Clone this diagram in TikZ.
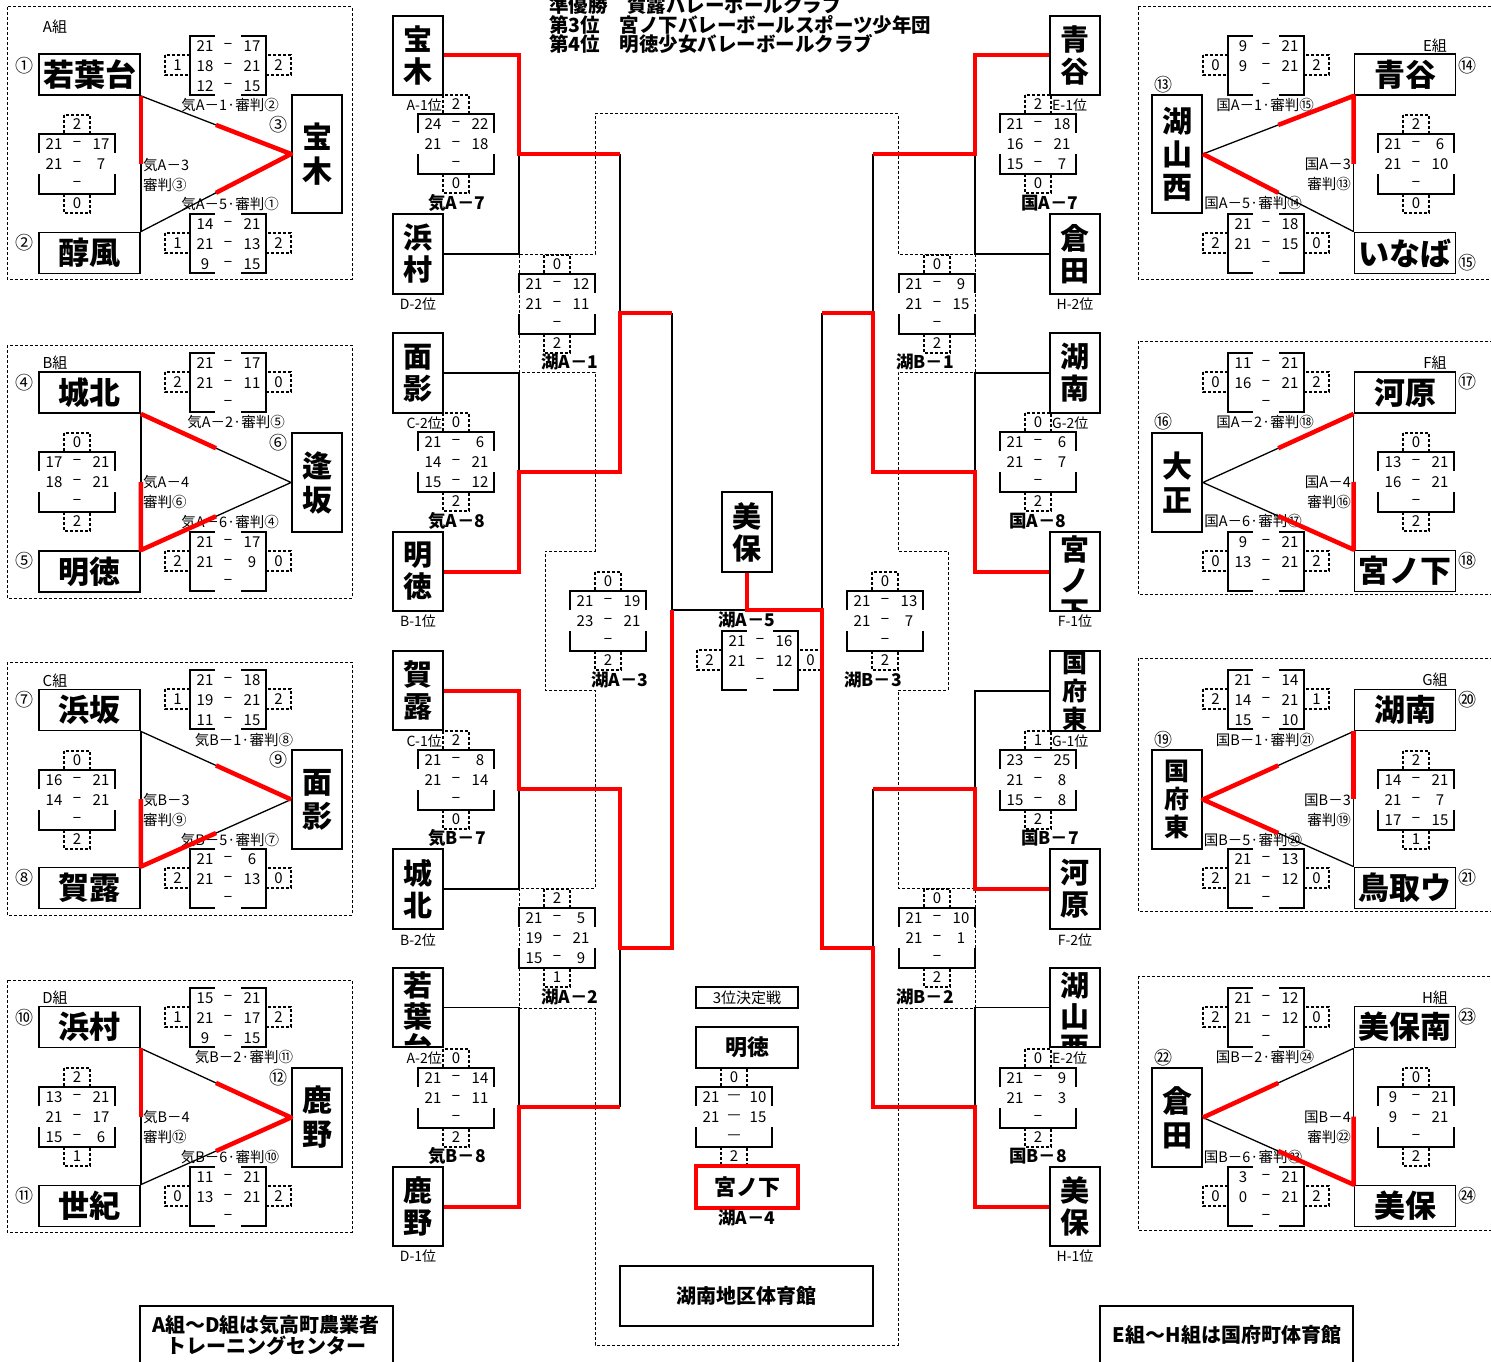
\documentclass[tikz,border=0pt]{standalone}
\usepackage{fontspec}
\setmainfont{Noto Sans CJK JP}
\usetikzlibrary{calc,positioning}
\def\sd{−}
% score box, sets shown left and right
\def\scoreH#1(#2,#3)#4#5#6{%
  \draw[sbox] (#2+25,#3) -- (#2,#3) -- (#2,#3+59) -- (#2+25,#3+59);
  \draw[sbox] (#2+51,#3) -- (#2+76,#3) -- (#2+76,#3+59) -- (#2+51,#3+59);
  \draw[dbox] (#2-25,#3+19) rectangle (#2,#3+39);
  \draw[dbox] (#2+76,#3+19) rectangle (#2+101,#3+39);
  \node[sc] (#1-l) at (#2-12.5,#3+29) {#4};
  \node[sc] (#1-r) at (#2+88.5,#3+29) {#5};
  \foreach \a/\b [count=\i] in {#6} {
    \node[sc] (#1-\i a) at (#2+15,#3-10+20*\i) {\a};
    \node[sc] (#1-\i m) at (#2+38,#3-10+20*\i) {\sd};
    \node[sc] (#1-\i b) at (#2+62,#3-10+20*\i) {\b};
  }
}
% score box, sets shown above and below
\def\scoreV#1(#2,#3)#4#5#6{%
  \draw[sbox] (#2,#3+19) -- (#2,#3) -- (#2+76,#3) -- (#2+76,#3+19);
  \draw[sbox] (#2,#3+40) -- (#2,#3+60) -- (#2+76,#3+60) -- (#2+76,#3+40);
  \draw[dbox] (#2+25,#3-19) rectangle (#2+51,#3);
  \draw[dbox] (#2+25,#3+60) rectangle (#2+51,#3+79);
  \node[sc] (#1-t) at (#2+38,#3-9.5) {#4};
  \node[sc] (#1-b) at (#2+38,#3+69.5) {#5};
  \foreach \a/\b [count=\i] in {#6} {
    \node[sc] (#1-\i a) at (#2+15,#3-10+20*\i) {\a};
    \node[sc] (#1-\i m) at (#2+38,#3-10+20*\i) {\sd};
    \node[sc] (#1-\i b) at (#2+62,#3-10+20*\i) {\b};
  }
}
\tikzset{
  grp/.style={line width=1pt, dash pattern=on 3pt off 2pt},
  dbox/.style={line width=1.2pt, dash pattern=on 3pt off 2pt},
  sbox/.style={line width=1.6pt},
  link/.style={line width=1.3pt},
  win/.style={red, line width=4.5pt, line join=round},
  wbr/.style={red, line width=4pt, line join=miter},
  hteam/.style={draw, line width=1.8pt, minimum width=101pt, minimum height=41pt, inner sep=0pt, font=\bfseries\fontsize{31}{31}\selectfont},
  vteam/.style={draw, line width=1.8pt, minimum width=50pt, inner sep=0pt, align=center, font=\bfseries\fontsize{30}{34}\selectfont},
  cteam/.style={vteam, minimum height=79pt, font=\bfseries\fontsize{29}{32}\selectfont},
  cname/.style={inner sep=0pt, align=center, font=\bfseries\fontsize{29}{31}\selectfont},
  sc/.style={inner sep=0pt, font=\fontsize{15}{15}\selectfont},
  mlab/.style={inner sep=0pt, font=\fontsize{14.5}{14.5}\selectfont},
  glab/.style={inner sep=0pt, font=\fontsize{15}{15}\selectfont},
  blab/.style={inner sep=0pt, font=\bfseries\fontsize{17.5}{17.5}\selectfont},
  cnum/.style={inner sep=0pt, font=\fontsize{18}{18}\selectfont},
  plab/.style={inner sep=0pt, font=\fontsize{14}{14}\selectfont},
  title/.style={inner sep=0pt, anchor=west, font=\bfseries\fontsize{19.5}{19.5}\selectfont},
  note/.style={inner sep=0pt, align=center, font=\bfseries\fontsize{20}{21}\selectfont},
}

\begin{document}
\begin{tikzpicture}[x=1pt, y=-1pt]
\useasboundingbox (0,0) rectangle (1491,1362);

%%%%% TITLE %%%%%
\node[title] (t1) at (549,5) {準優勝　賀露バレーボールクラブ};
\node[title] (t2) at (549,25) {第3位　宮ノ下バレーボールスポーツ少年団};
\node[title] (t3) at (549,44) {第4位　明徳少女バレーボールクラブ};

%%%%% A組 %%%%%
\draw[grp] (7,7) rectangle (352,279);
\node[glab] (gA) at (55,27) {A組};
\node[hteam] (wakaba) at (89.5,74.5) {若葉台};
\node[hteam] (junpu) at (89.5,253) {醇風};
\node[vteam, minimum height=118pt] (hoki) at (317,154) {宝\\木};
\node[cnum] (nA1) at (25,66) {①};
\node[cnum] (nA2) at (25,243) {②};
\node[cnum] (nA3) at (278,125) {③};
\scoreH{kiA1}(190,36){1}{2}{21/17,18/21,12/15}
\scoreV{kiA3}(39,134){2}{0}{21/17,21/7,{}/{}}
\scoreH{kiA5}(190,214){1}{2}{14/21,21/13,9/15}
\node[mlab] (mA1) at (230,105) {気A－1·審判②};
\node[mlab, anchor=west] (mA3) at (143,165) {気A－3};
\node[mlab, anchor=west] (rA3) at (143,185) {審判③};
\node[mlab] (mA5) at (230,204) {気A－5·審判①};
\draw[link] (wakaba.south east) -- (junpu.north east);
\draw[link] (wakaba.south east) -- (hoki.west) -- (junpu.north east);
\draw[win] (wakaba.south east) -- ($(wakaba.south east)!.5!(junpu.north east)$);
\draw[win] ($(wakaba.south east)!.5!(hoki.west)$) -- (hoki.west) -- ($(junpu.north east)!.5!(hoki.west)$);

%%%%% B組 %%%%%
\draw[grp] (7,345) rectangle (352,598);
\node[glab] (gB) at (55,363) {B組};
\node[hteam] (johoku) at (89.5,392.5) {城北};
\node[hteam] (meitoku) at (89.5,571.5) {明徳};
\node[vteam, minimum height=99pt] (ousaka) at (317,482.5) {逢\\坂};
\node[cnum] (nA4) at (25,383) {④};
\node[cnum] (nA5) at (25,561) {⑤};
\node[cnum] (nA6) at (278,443) {⑥};
\scoreH{kiA2}(190,353){2}{0}{21/17,21/11,{}/{}}
\scoreV{kiA4}(39,452){0}{2}{17/21,18/21,{}/{}}
\scoreH{kiA6}(190,532){2}{0}{21/17,21/9,{}/{}}
\node[mlab] (mA2) at (236,422) {気A－2·審判⑤};
\node[mlab, anchor=west] (mA4) at (143,482) {気A－4};
\node[mlab, anchor=west] (rA4) at (143,502) {審判⑥};
\node[mlab] (mA6) at (230,522) {気A－6·審判④};
\draw[link] (johoku.south east) -- (meitoku.north east);
\draw[link] (johoku.south east) -- (ousaka.west) -- (meitoku.north east);
\draw[win] (johoku.south east) -- ($(johoku.south east)!.5!(ousaka.west)$);
\draw[win] ($(johoku.south east)!.5!(meitoku.north east)$) -- (meitoku.north east) -- ($(meitoku.north east)!.5!(ousaka.west)$);

%%%%% C組 %%%%%
\draw[grp] (7,662) rectangle (352,915);
\node[glab] (gC) at (55,681) {C組};
\node[hteam] (hamasaka) at (89.5,710) {浜坂};
\node[hteam] (karo) at (89.5,888) {賀露};
\node[vteam, minimum height=99pt] (omokage) at (317,799.5) {面\\影};
\node[cnum] (nB7) at (25,700) {⑦};
\node[cnum] (nB8) at (25,878) {⑧};
\node[cnum] (nB9) at (278,760) {⑨};
\scoreH{kiB1}(190,670){1}{2}{21/18,19/21,11/15}
\scoreV{kiB3}(39,770){0}{2}{16/21,14/21,{}/{}}
\scoreH{kiB5}(190,849){2}{0}{21/6,21/13,{}/{}}
\node[mlab] (mB1) at (244,740) {気B－1·審判⑧};
\node[mlab, anchor=west] (mB3) at (143,800) {気B－3};
\node[mlab, anchor=west] (rB3) at (143,820) {審判⑨};
\node[mlab] (mB5) at (230,840) {気B－5·審判⑦};
\draw[link] (hamasaka.south east) -- (karo.north east);
\draw[link] (hamasaka.south east) -- (omokage.west) -- (karo.north east);
\draw[win] ($(hamasaka.south east)!.5!(omokage.west)$) -- (omokage.west);
\draw[win] ($(hamasaka.south east)!.5!(karo.north east)$) -- (karo.north east) -- ($(karo.north east)!.5!(omokage.west)$);

%%%%% D組 %%%%%
\draw[grp] (7,980) rectangle (352,1232);
\node[glab] (gD) at (55,998) {D組};
\node[hteam] (hamamura) at (89.5,1027) {浜村};
\node[hteam] (seiki) at (89.5,1206) {世紀};
\node[vteam, minimum height=99pt] (shikano) at (317,1117.5) {鹿\\野};
\node[cnum] (nB10) at (25,1018) {⑩};
\node[cnum] (nB11) at (25,1196) {⑪};
\node[cnum] (nB12) at (278,1078) {⑫};
\scoreH{kiB2}(190,988){1}{2}{15/21,21/17,9/15}
\scoreV{kiB4}(39,1087){2}{1}{13/21,21/17,15/6}
\scoreH{kiB6}(190,1167){0}{2}{11/21,13/21,{}/{}}
\node[mlab] (mB2) at (244,1057) {気B－2·審判⑪};
\node[mlab, anchor=west] (mB4) at (143,1117) {気B－4};
\node[mlab, anchor=west] (rB4) at (143,1137) {審判⑫};
\node[mlab] (mB6) at (230,1157) {気B－6·審判⑩};
\draw[link] (hamamura.south east) -- (seiki.north east);
\draw[link] (hamamura.south east) -- (shikano.west) -- (seiki.north east);
\draw[win] (hamamura.south east) -- ($(hamamura.south east)!.5!(seiki.north east)$);
\draw[win] ($(hamamura.south east)!.5!(shikano.west)$) -- (shikano.west) -- ($(seiki.north east)!.5!(shikano.west)$);

%%%%% E組 %%%%%
\draw[grp] (1138,7) rectangle (1495,279);
\node[glab] (gE) at (1435,46) {E組};
\node[hteam] (aoya) at (1405,74.5) {青谷};
\node[hteam] (inaba) at (1405,253) {いなば};
\node[vteam, minimum height=118pt, font=\bfseries\fontsize{30}{33}\selectfont] (kozan) at (1177,154) {湖\\山\\西};
\node[cnum] (nE13) at (1163,85) {⑬};
\node[cnum] (nE14) at (1467,66) {⑭};
\node[cnum] (nE15) at (1467,263) {⑮};
\scoreH{kuA1}(1228,36){0}{2}{9/21,9/21,{}/{}}
\scoreV{kuA3}(1378,134){2}{0}{21/6,21/10,{}/{}}
\scoreH{kuA5}(1228,214){2}{0}{21/18,21/15,{}/{}}
\node[mlab] (mE1) at (1265,105) {国A－1·審判⑮};
\node[mlab, anchor=east] (mE3) at (1351,164) {国A－3};
\node[mlab, anchor=east] (rE3) at (1351,184) {審判⑬};
\node[mlab] (mE5) at (1253,203) {国A－5·審判⑭};
\draw[link] (aoya.south west) -- (inaba.north west);
\draw[link] (aoya.south west) -- (kozan.east) -- (inaba.north west);
\draw[win] ($(kozan.east)!.5!(aoya.south west)$) -- (aoya.south west) -- ($(aoya.south west)!.5!(inaba.north west)$);
\draw[win] (kozan.east) -- ($(kozan.east)!.5!(inaba.north west)$);

%%%%% F組 %%%%%
\draw[grp] (1138,341) rectangle (1495,594);
\node[glab] (gF) at (1435,363) {F組};
\node[hteam] (kawara) at (1405,392.5) {河原};
\node[hteam] (miyaG) at (1405,571) {宮ノ下};
\node[vteam, minimum height=99pt] (taisho) at (1177,482.5) {大\\正};
\node[cnum] (nF16) at (1163,422) {⑯};
\node[cnum] (nF17) at (1467,382) {⑰};
\node[cnum] (nF18) at (1467,561) {⑱};
\scoreH{kuA2}(1228,353){0}{2}{11/21,16/21,{}/{}}
\scoreV{kuA4}(1378,452){0}{2}{13/21,16/21,{}/{}}
\scoreH{kuA6}(1228,532){0}{2}{9/21,13/21,{}/{}}
\node[mlab] (mF2) at (1265,422) {国A－2·審判⑱};
\node[mlab, anchor=east] (mF4) at (1351,482) {国A－4};
\node[mlab, anchor=east] (rF4) at (1351,502) {審判⑯};
\node[mlab] (mF6) at (1253,521) {国A－6·審判⑰};
\draw[link] (kawara.south west) -- (miyaG.north west);
\draw[link] (kawara.south west) -- (taisho.east) -- (miyaG.north west);
\draw[win] ($(taisho.east)!.5!(kawara.south west)$) -- (kawara.south west);
\draw[win] ($(kawara.south west)!.5!(miyaG.north west)$) -- (miyaG.north west) -- ($(taisho.east)!.5!(miyaG.north west)$);

%%%%% G組 %%%%%
\draw[grp] (1138,658) rectangle (1495,911);
\node[glab] (gG) at (1435,680) {G組};
\node[hteam] (konan) at (1405,710) {湖南};
\node[hteam] (tottori) at (1405,888) {鳥取ウ};
\node[vteam, minimum height=99pt, font=\bfseries\fontsize{25}{28}\selectfont] (kofu) at (1177,799.5) {国\\府\\東};
\node[cnum] (nG19) at (1163,740) {⑲};
\node[cnum] (nG20) at (1467,700) {⑳};
\node[cnum] (nG21) at (1467,878) {㉑};
\scoreH{kuB1}(1228,670){2}{1}{21/14,14/21,15/10}
\scoreV{kuB3}(1378,770){2}{1}{14/21,21/7,17/15}
\scoreH{kuB5}(1228,849){2}{0}{21/13,21/12,{}/{}}
\node[mlab] (mG1) at (1265,740) {国B－1·審判㉑};
\node[mlab, anchor=east] (mG3) at (1351,800) {国B－3};
\node[mlab, anchor=east] (rG3) at (1351,820) {審判⑲};
\node[mlab] (mG5) at (1253,840) {国B－5·審判⑳};
\draw[link] (konan.south west) -- (tottori.north west);
\draw[link] (konan.south west) -- (kofu.east) -- (tottori.north west);
\draw[win] ($(kofu.east)!.5!(konan.south west)$) -- (kofu.east) -- ($(kofu.east)!.5!(tottori.north west)$);
\draw[win] (konan.south west) -- ($(konan.south west)!.5!(tottori.north west)$);

%%%%% H組 %%%%%
\draw[grp] (1138,976) rectangle (1495,1230);
\node[glab] (gH) at (1435,998) {H組};
\node[hteam] (mihominami) at (1405,1027) {美保南};
\node[hteam] (mihoG) at (1405,1206) {美保};
\node[vteam, minimum height=99pt] (kurataG) at (1177,1117.5) {倉\\田};
\node[cnum] (nH22) at (1163,1058) {㉒};
\node[cnum] (nH23) at (1467,1017) {㉓};
\node[cnum] (nH24) at (1467,1196) {㉔};
\scoreH{kuB2}(1228,988){2}{0}{21/12,21/12,{}/{}}
\scoreV{kuB4}(1378,1087){0}{2}{9/21,9/21,{}/{}}
\scoreH{kuB6}(1228,1167){0}{2}{3/21,0/21,{}/{}}
\node[mlab] (mH2) at (1265,1057) {国B－2·審判㉔};
\node[mlab, anchor=east] (mH4) at (1351,1117) {国B－4};
\node[mlab, anchor=east] (rH4) at (1351,1137) {審判㉒};
\node[mlab] (mH6) at (1253,1157) {国B－6·審判㉓};
\draw[link] (mihominami.south west) -- (mihoG.north west);
\draw[link] (mihominami.south west) -- (kurataG.east) -- (mihoG.north west);
\draw[win] (kurataG.east) -- ($(kurataG.east)!.5!(mihominami.south west)$);
\draw[win] ($(kurataG.east)!.5!(mihoG.north west)$) -- (mihoG.north west) -- ($(mihominami.south west)!.5!(mihoG.north west)$);

%%%%% TOURNAMENT %%%%%
\draw[grp] (595,114) -- (898,114) -- (898,254) -- (975,254) -- (975,372) -- (898,372) -- (898,551) -- (948,551) -- (948,690) -- (898,690) -- (898,888) -- (975,888) -- (975,1008) -- (898,1008) -- (898,1345) -- (595,1345) -- (595,1008) -- (519,1008) -- (519,888) -- (595,888) -- (595,690) -- (545,690) -- (545,551) -- (595,551) -- (595,372) -- (519,372) -- (519,254) -- (595,254) -- cycle;

\node[cteam] (cHoki) at (418,55.5) {宝\\木};
\node[cteam, minimum height=80pt] (cHamamura) at (418,254) {浜\\村};
\node[cteam, minimum height=80pt] (cOmokage) at (418,373) {面\\影};
\node[cteam] (cMeitoku) at (418,571.5) {明\\徳};
\node[cteam] (cKaro) at (418,690.5) {賀\\露};
\node[cteam, minimum height=80pt] (cJohoku) at (418,889) {城\\北};
\node[cteam] (cWakaba) at (418,1007.5) {};
\begin{scope}
  \clip (393,968) rectangle (443,1047);
  \node[cname, anchor=north] (cWakabaT) at (418,972) {若\\葉\\台};
\end{scope}
\node[cteam] (cShikano) at (418,1206.5) {鹿\\野};

\node[cteam] (cAoya) at (1075,55.5) {青\\谷};
\node[cteam, minimum height=80pt] (cKurata) at (1075,254) {倉\\田};
\node[cteam, minimum height=80pt] (cKonan) at (1075,373) {湖\\南};
\node[cteam] (cMiya) at (1075,571.5) {};
\begin{scope}
  \clip (1050,532) rectangle (1100,611);
  \node[cname, anchor=north] (cMiyaT) at (1075,535) {宮\\ノ\\下};
\end{scope}
\node[cteam, minimum height=80pt, font=\bfseries\fontsize{25}{28}\selectfont] (cKofu) at (1075,691) {国\\府\\東};
\node[cteam, minimum height=80pt] (cKawara) at (1075,889) {河\\原};
\node[cteam] (cKozan) at (1075,1007.5) {};
\begin{scope}
  \clip (1050,968) rectangle (1100,1047);
  \node[cname, anchor=north] (cKozanT) at (1075,972) {湖\\山\\西};
\end{scope}
\node[cteam] (cMiho) at (1075,1206.5) {美\\保};

\node[cteam, minimum height=80pt] (cChamp) at (747,532) {美\\保};

% place labels
\node[plab, anchor=east] (pA1) at (442,105) {A-1位};
\node[plab] (pD2) at (418,304) {D-2位};
\node[plab, anchor=east] (pC2) at (442,423) {C-2位};
\node[plab] (pB1) at (418,621) {B-1位};
\node[plab, anchor=east] (pC1) at (442,741) {C-1位};
\node[plab] (pB2) at (418,940) {B-2位};
\node[plab, anchor=east] (pA2) at (442,1058) {A-2位};
\node[plab] (pD1) at (418,1256) {D-1位};
\node[plab, anchor=west] (pE1) at (1052,105) {E-1位};
\node[plab] (pH2) at (1075,304) {H-2位};
\node[plab, anchor=west] (pG2) at (1052,423) {G-2位};
\node[plab] (pF1) at (1075,621) {F-1位};
\node[plab, anchor=west] (pG1) at (1052,741) {G-1位};
\node[plab] (pF2) at (1075,940) {F-2位};
\node[plab, anchor=west] (pE2) at (1052,1058) {E-2位};
\node[plab] (pH1) at (1075,1256) {H-1位};

% scores
\scoreV{kiA7}(418,114){2}{0}{24/22,21/18,{}/{}}
\scoreV{kiA8}(418,432){0}{2}{21/6,14/21,15/12}
\scoreV{kiB7}(418,750){2}{0}{21/8,21/14,{}/{}}
\scoreV{kiB8}(418,1068){0}{2}{21/14,21/11,{}/{}}
\scoreV{kuA7}(1000,114){2}{0}{21/18,16/21,15/7}
\scoreV{kuA8}(1000,432){0}{2}{21/6,21/7,{}/{}}
\scoreV{kuB7}(1000,750){1}{2}{23/25,21/8,15/8}
\scoreV{kuB8}(1000,1068){0}{2}{21/9,21/3,{}/{}}
\scoreV{koA1}(519,274){0}{2}{21/12,21/11,{}/{}}
\scoreV{koA2}(519,908){2}{1}{21/5,19/21,15/9}
\scoreV{koB1}(899,274){0}{2}{21/9,21/15,{}/{}}
\scoreV{koB2}(899,908){0}{2}{21/10,21/1,{}/{}}
\scoreV{koA3}(570,591){0}{2}{21/19,23/21,{}/{}}
\scoreV{koB3}(847,591){0}{2}{21/13,21/7,{}/{}}
\scoreH{koA5}(722,631){2}{0}{21/16,21/12,{}/{}}

\node[blab] (lKiA7) at (457,203) {気A－7};
\node[blab] (lKiA8) at (457,521) {気A－8};
\node[blab] (lKiB7) at (457,838) {気B－7};
\node[blab] (lKiB8) at (457,1156) {気B－8};
\node[blab] (lKuA7) at (1050,203) {国A－7};
\node[blab] (lKuA8) at (1038,521) {国A－8};
\node[blab] (lKuB7) at (1050,838) {国B－7};
\node[blab] (lKuB8) at (1038,1156) {国B－8};
\node[blab] (lKoA1) at (570,362) {湖A－1};
\node[blab] (lKoA2) at (570,997) {湖A－2};
\node[blab] (lKoB1) at (925,362) {湖B－1};
\node[blab] (lKoB2) at (925,997) {湖B－2};
\node[blab] (lKoA3) at (620,680) {湖A－3};
\node[blab] (lKoB3) at (873,680) {湖B－3};
\node[blab] (lKoA5) at (747,620) {湖A－5};

% bracket joints
\coordinate (jA7) at (519,154);
\coordinate (jA8) at (519,472);
\coordinate (jB7) at (519,789);
\coordinate (jB8) at (519,1107);
\coordinate (kA1) at (620,313);
\coordinate (kA2) at (620,948);
\coordinate (jRA7) at (975,154);
\coordinate (jRA8) at (975,472);
\coordinate (jRB7) at (975,789);
\coordinate (jRB8) at (975,1107);
\coordinate (kB1) at (873,313);
\coordinate (kB2) at (873,948);
\coordinate (semiA) at (672,610);
\coordinate (semiB) at (822,610);
\coordinate (fin) at (747,610);

\draw[link] (cHamamura.east) -| (jA7);
\draw[link] (cOmokage.east) -| (jA8);
\draw[link] (cJohoku.east) -| (jB7);
\draw[link] (cWakaba.east) -| (jB8);
\draw[link] (jA7 -| kA1) -- (kA1);
\draw[link] (jB8 -| kA2) -- (kA2);
\draw[link] (kA1 -| semiA) -- (semiA) -- (fin);
\draw[link] (cKurata.west) -| (jRA7);
\draw[link] (cKonan.west) -| (jRA8);
\draw[link] (cKofu.west) -| (jRB7);
\draw[link] (cKozan.west) -| (jRB8);
\draw[link] (jRA7 -| kB1) -- (kB1);
\draw[link] (jRB7 -| kB2) -- (kB2);
\draw[link] (kB1 -| semiB) -- (semiB);

\draw[wbr] (cHoki.east) -| (jA7) -- (jA7 -| kA1);
\draw[wbr] (cMeitoku.east) -| (jA8) -- (jA8 -| kA1) -- (kA1) -- (kA1 -| semiA);
\draw[wbr] (cKaro.east) -| (jB7) -- (jB7 -| kA2) -- (kA2) -- (kA2 -| semiA) -- (semiA);
\draw[wbr] (cShikano.east) -| (jB8) -- (jB8 -| kA2);
\draw[wbr] (cAoya.west) -| (jRA7) -- (jRA7 -| kB1);
\draw[wbr] (cMiya.west) -| (jRA8) -- (jRA8 -| kB1) -- (kB1) -- (kB1 -| semiB);
\draw[wbr] (cKawara.west) -| (jRB7) -- (jRB7 -| kB2);
\draw[wbr] (cChamp.south) -- (fin) -- (semiB) -- (kB2 -| semiB) -- (kB2) -- (jRB8 -| kB2) -- (jRB8) |- (cMiho.west);

%%%%% 3位決定戦 %%%%%
\node[draw, line width=1.6pt, minimum width=102pt, minimum height=21pt, inner sep=0pt, font=\fontsize{15}{15}\selectfont] (third) at (747,997.5) {3位決定戦};
\node[draw, line width=1.8pt, minimum width=102pt, minimum height=41pt, inner sep=0pt, font=\bfseries\fontsize{22}{22}\selectfont] (thirdA) at (747,1047.5) {明徳};
{\def\sd{—}\scoreV{koA4}(696,1087){0}{2}{21/10,21/15,{}/{}}}
\node[draw=red, line width=4pt, minimum width=102pt, minimum height=42pt, inner sep=0pt, font=\bfseries\fontsize{22}{22}\selectfont] (thirdB) at (747,1187) {宮ノ下};
\node[blab] (lKoA4) at (747,1218) {湖A－4};

\node[draw, line width=1.8pt, minimum width=253pt, minimum height=60pt, inner sep=0pt, font=\bfseries\fontsize{20}{20}\selectfont] (venue) at (746.5,1296) {湖南地区体育館};

%%%%% NOTES %%%%%
\draw[line width=1.8pt] (140,1370) |- (393,1306) -- (393,1370);
\node[note] (noteL) at (266,1335) {A組～D組は気高町農業者\\トレーニングセンター};
\draw[line width=1.8pt] (1100,1370) |- (1353,1306) -- (1353,1370);
\node[note] (noteR) at (1227,1335) {E組～H組は国府町体育館};

\end{tikzpicture}
\end{document}
